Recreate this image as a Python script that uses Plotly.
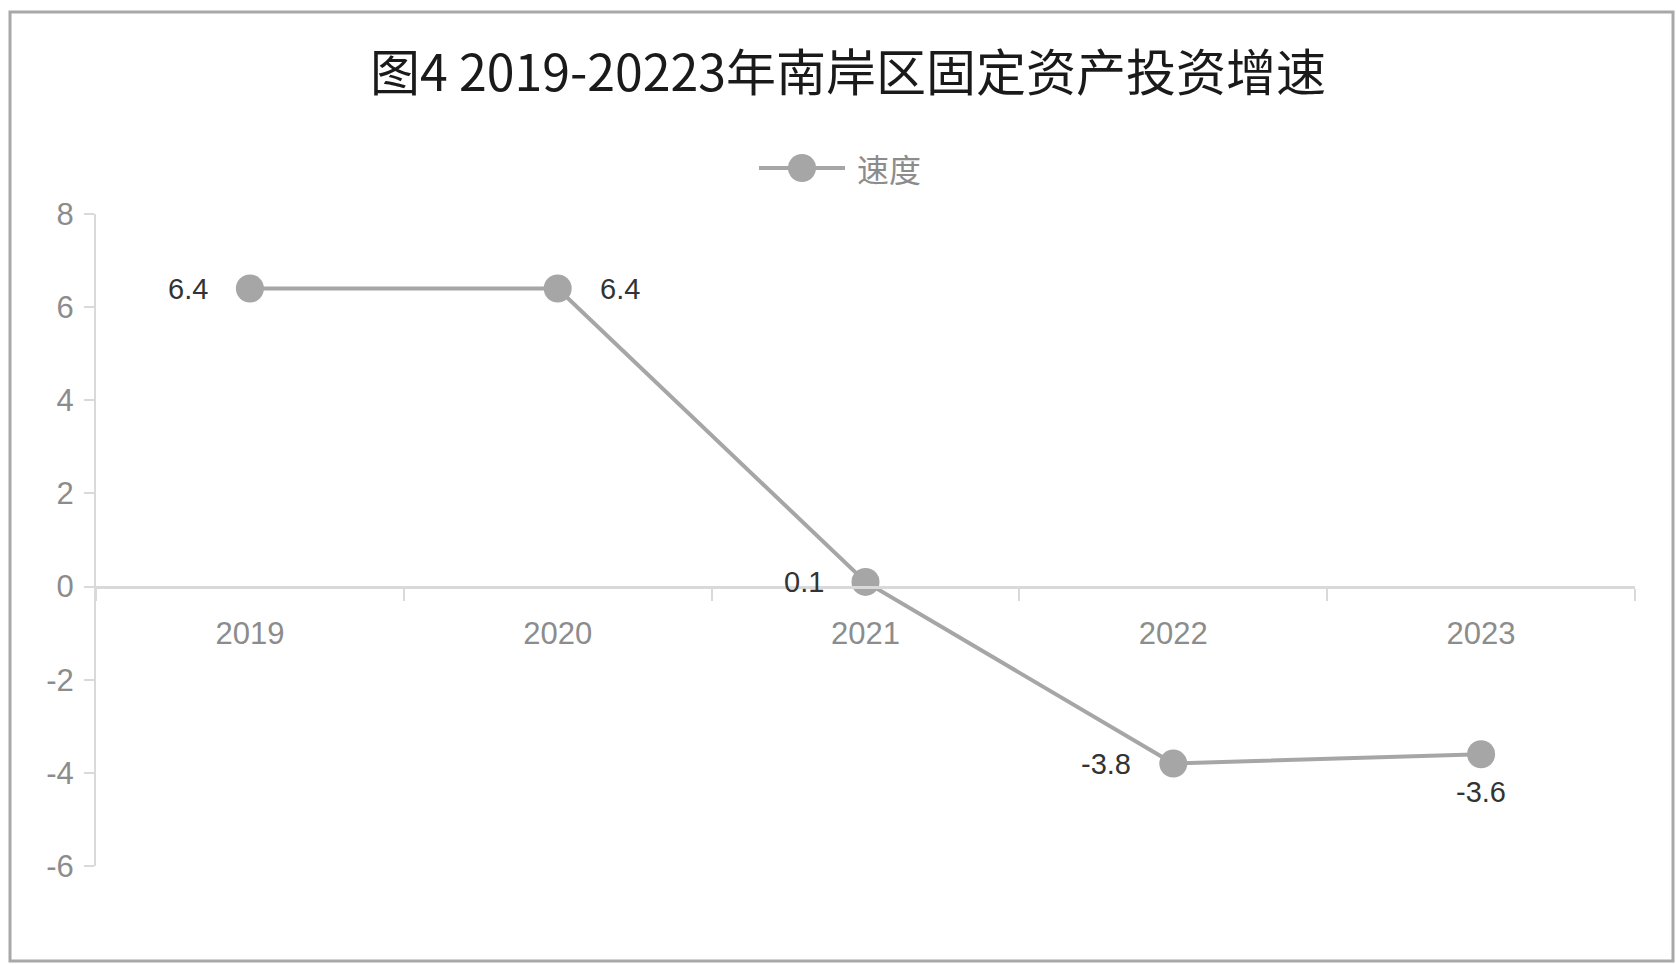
import plotly.graph_objects as go

years = ["2019", "2020", "2021", "2022", "2023"]
speed = [6.4, 6.4, 0.1, -3.8, -3.6]
label_side = ["left", "right", "left", "left", "below"]
series_name = "速度"
title_text = "图4 2019-20223年南岸区固定资产投资增速"
ytick_vals = [-6, -4, -2, 0, 2, 4, 6, 8]
ytick_text = ["-6", "-4", "-2", "0", "2", "4", "6", "8"]

W, H = 1676, 964
ml, mr, mt, mb = 96, 41, 214, 98
pw, ph = W - ml - mr, H - mt - mb
ymin, ymax = -6, 8
grey = "#a6a6a6"
num_font = "Liberation Sans, Arial, sans-serif"

fig = go.Figure()
fig.add_trace(go.Scatter(
    x=years, y=speed, name=series_name,
    mode="lines+markers",
    line=dict(color=grey, width=4),
    marker=dict(color=grey, size=28),
    showlegend=False,
    cliponaxis=False,
))

# data labels, anchored to the data points (category index on the x axis)
for i, (yv, side) in enumerate(zip(speed, label_side)):
    kw = dict(x=i, y=yv, xref="x", yref="y", text=f"{yv:.1f}", showarrow=False,
              font=dict(family=num_font, size=29, color="#333333"))
    if side == "left":
        kw.update(xanchor="right", yanchor="middle", xshift=-40)
    elif side == "right":
        kw.update(xanchor="left", yanchor="middle", xshift=40)
    else:
        kw.update(xanchor="center", yanchor="top", yshift=-20)
    fig.add_annotation(**kw)

zero_frac = (0 - ymin) / (ymax - ymin)


def px_to_paper_x(px):
    return (px - ml) / pw


def px_to_paper_y(py):
    return (H - mb - py) / ph


# outer frame
fig.add_shape(type="rect", xref="paper", yref="paper",
              x0=px_to_paper_x(10), x1=px_to_paper_x(1673),
              y0=px_to_paper_y(961), y1=px_to_paper_y(12),
              line=dict(color="#a8a8a8", width=3), fillcolor="rgba(0,0,0,0)", layer="below")

# legend (drawn)
ly = px_to_paper_y(168)
fig.add_shape(type="line", xref="paper", yref="paper",
              x0=px_to_paper_x(759), x1=px_to_paper_x(845), y0=ly, y1=ly,
              line=dict(color=grey, width=4))
r = 14
fig.add_shape(type="circle", xref="paper", yref="paper",
              x0=px_to_paper_x(802 - r), x1=px_to_paper_x(802 + r),
              y0=px_to_paper_y(168 + r), y1=px_to_paper_y(168 - r),
              line=dict(color=grey, width=0), fillcolor=grey)
fig.add_annotation(x=px_to_paper_x(855), y=ly, xref="paper", yref="paper",
                   text=series_name, showarrow=False, xanchor="left", yanchor="middle",
                   font=dict(family="Noto Sans CJK SC", size=32, color="#8c8c8c"))

fig.update_layout(
    width=W, height=H,
    margin=dict(l=ml, r=mr, t=mt, b=mb),
    paper_bgcolor="white", plot_bgcolor="white",
    title=dict(text=title_text, x=0.506, xref="container", xanchor="center",
               y=1 - 73 / H, yref="container", yanchor="middle",
               font=dict(family="Noto Sans CJK SC", size=50, color="#1a1a1a")),
    showlegend=False,
    xaxis=dict(type="category", range=[-0.5, 4.5], anchor="free", position=zero_frac,
               showline=True, linecolor="#d9d9d9", linewidth=3,
               ticks="outside", tickson="boundaries", ticklen=12, tickcolor="#d9d9d9", tickwidth=2,
               showgrid=False, zeroline=False,
               tickfont=dict(family=num_font, size=31, color="#8c8c8c"),
               ticklabelstandoff=18),
    yaxis=dict(range=[ymin, ymax], tickvals=ytick_vals, ticktext=ytick_text,
               showline=True, linecolor="#d9d9d9", linewidth=2,
               ticks="outside", ticklen=10, tickcolor="#d9d9d9", tickwidth=2,
               showgrid=False, zeroline=False, ticklabelstandoff=4,
               tickfont=dict(family=num_font, size=31, color="#8c8c8c")),
)

fig.write_html("out.html", config={"displayModeBar": False},
               post_script="document.body.style.margin='0';document.body.style.overflow='hidden';")
